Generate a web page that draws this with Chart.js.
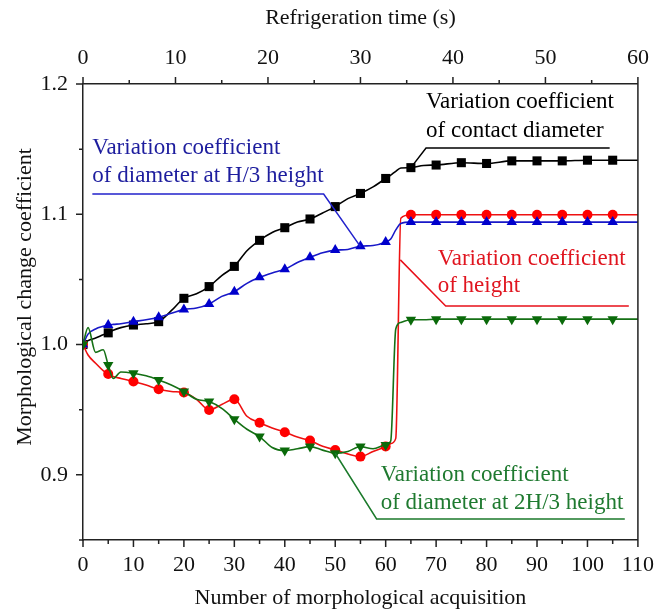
<!DOCTYPE html>
<html>
<head>
<meta charset="utf-8">
<script src="https://cdn.jsdelivr.net/npm/chart.js@4.4.0/dist/chart.umd.min.js"></script>
<style>
html, body { margin: 0; padding: 0; background: #fff; }
#contenedor { width: 666px; height: 615px; }
</style>
</head>
<body>
<div id="contenedor"><canvas id="grafico" width="666" height="615"></canvas></div>
<script>
// numero de adquisicion (eje inferior)
const adquisiciones = [0, 1, 2.5, 4, 5, 6, 7.5, 10, 12.5, 15, 17.5, 20, 22.5, 25, 27.5, 30, 32.5, 35, 37.5, 40, 42.5, 45, 47.5, 50, 52.5, 55, 57.5, 60, 61, 62, 63, 65, 67.5, 70, 75, 80, 85, 90, 95, 100, 105, 110];

const diametroContacto = [1.000, 1.003, 1.005, 1.0075, 1.009, 1.011, 1.013, 1.015, 1.016, 1.0176, 1.026, 1.0355, 1.039, 1.0445, 1.053, 1.060, 1.072, 1.080, 1.086, 1.0897, 1.094, 1.0964, 1.101, 1.1059, 1.112, 1.116, 1.121, 1.1275, 1.130, 1.133, 1.1355, 1.1358, 1.1375, 1.1378, 1.1396, 1.139, 1.141, 1.141, 1.141, 1.1415, 1.1415, 1.1415];
const altura = [1.000, 0.992, 0.9857, 0.980, 0.9774, 0.9755, 0.974, 0.9716, 0.969, 0.9657, 0.964, 0.9632, 0.958, 0.9498, 0.954, 0.958, 0.945, 0.940, 0.936, 0.9327, 0.929, 0.9263, 0.922, 0.9191, 0.916, 0.914, 0.918, 0.9217, 0.924, 0.928, 1.097, 1.0996, 1.0996, 1.0996, 1.0996, 1.0996, 1.0996, 1.0996, 1.0996, 1.0996, 1.0996, 1.0996];
const diametroH3 = [1.000, 1.008, 1.012, 1.014, 1.015, 1.0155, 1.016, 1.0176, 1.019, 1.021, 1.024, 1.027, 1.028, 1.0312, 1.037, 1.0406, 1.047, 1.0516, 1.055, 1.0578, 1.063, 1.067, 1.0705, 1.0725, 1.073, 1.0755, 1.076, 1.0787, 1.081, 1.088, 1.093, 1.094, 1.094, 1.094, 1.094, 1.094, 1.094, 1.094, 1.094, 1.094, 1.094, 1.094];
const diametro2H3 = [1.000, 1.013, 0.994, 0.996, 0.9843, 0.974, 0.979, 0.978, 0.976, 0.9728, 0.969, 0.964, 0.958, 0.9563, 0.951, 0.9427, 0.935, 0.9294, 0.921, 0.9186, 0.920, 0.9217, 0.919, 0.9166, 0.918, 0.9217, 0.920, 0.923, 0.926, 1.012, 1.017, 1.019, 1.019, 1.0195, 1.0195, 1.0195, 1.0195, 1.0195, 1.0195, 1.0195, 1.0195, 1.0195];

const FUENTE = '"Liberation Serif", "Times New Roman", serif';
const tituloY = 'Morphological change coefficient';

// textos y lineas guia (coordenadas en unidades de los ejes)
const anotaciones = [
    { color: '#000000', texto: ['Variation coefficient', 'of contact diameter'], tx: 68, ty: [1.1862, 1.1639],
      guia: [[65, 1.1358], [68, 1.1509], [104.4, 1.1509]] },
    { color: '#1d1d9e', linea: '#2222cc', texto: ['Variation coefficient', 'of diameter at H/3 height'], tx: 1.85, ty: [1.1509, 1.1294],
      guia: [[55, 1.0752], [47.7, 1.1156], [1.85, 1.1156]] },
    { color: '#e0151f', linea: '#e8101a', texto: ['Variation coefficient', 'of height'], tx: 70.3, ty: [1.0657, 1.045],
      guia: [[62.9, 1.065], [71.9, 1.0296], [108.2, 1.0296]] },
    { color: '#1f7a30', linea: '#1b7a2b', texto: ['Variation coefficient', 'of diameter at 2H/3 height'], tx: 59, ty: [0.8999, 0.8784],
      guia: [[50, 0.9166], [58.2, 0.8662], [107.4, 0.8662]] }
];

function puntos(serie) {
    return adquisiciones.map((x, i) => ({ x: x, y: serie[i] }));
}

function radioMarca(r) {
    return function (ctx) {
        const x = adquisiciones[ctx.dataIndex];
        return (x % 5 === 0 && x < 110) ? r : 0;
    };
}

function esMayor(v, paso) {
    return Math.abs(v / paso - Math.round(v / paso)) < 1e-6;
}

// marcas de los ejes hacia afuera, marco derecho y titulo vertical
const marcasEjes = {
    id: 'marcasEjes',
    afterDraw(chart) {
        const ctx = chart.ctx;
        const a = chart.chartArea;
        ctx.save();
        ctx.strokeStyle = '#222';
        ctx.lineWidth = 1.5;
        ctx.beginPath();
        ctx.moveTo(a.right, a.top);
        ctx.lineTo(a.right, a.bottom);
        const sx = chart.scales.x, sx2 = chart.scales.x2, sy = chart.scales.y;
        sx.ticks.forEach(t => {
            const p = sx.getPixelForValue(t.value);
            const l = esMayor(t.value, 10) ? 7 : 4;
            ctx.moveTo(p, a.bottom); ctx.lineTo(p, a.bottom + l);
        });
        sx2.ticks.forEach(t => {
            const p = sx2.getPixelForValue(t.value);
            const l = esMayor(t.value, 10) ? 7 : 4;
            ctx.moveTo(p, a.top); ctx.lineTo(p, a.top - l);
        });
        sy.ticks.forEach(t => {
            const p = sy.getPixelForValue(t.value);
            const l = esMayor(t.value, 0.1) ? 7 : 4;
            ctx.moveTo(a.left, p); ctx.lineTo(a.left - l, p);
        });
        ctx.stroke();

        ctx.translate(25, 297);
        ctx.rotate(-Math.PI / 2);
        ctx.fillStyle = '#111';
        ctx.font = '22px ' + FUENTE;
        ctx.textAlign = 'center';
        ctx.textBaseline = 'middle';
        ctx.fillText(tituloY, 0, 0);
        ctx.restore();
    }
};

const textosGuia = {
    id: 'textosGuia',
    afterDatasetsDraw(chart) {
        const ctx = chart.ctx;
        const sx = chart.scales.x, sy = chart.scales.y;
        ctx.save();
        anotaciones.forEach(an => {
            ctx.strokeStyle = an.linea || an.color;
            ctx.lineWidth = 1.5;
            ctx.beginPath();
            an.guia.forEach((p, i) => {
                const px = sx.getPixelForValue(p[0]);
                const py = sy.getPixelForValue(p[1]);
                if (i === 0) ctx.moveTo(px, py); else ctx.lineTo(px, py);
            });
            ctx.stroke();
            ctx.fillStyle = an.color;
            ctx.font = '23px ' + FUENTE;
            ctx.textAlign = 'left';
            ctx.textBaseline = 'middle';
            an.texto.forEach((t, i) => {
                ctx.fillText(t, sx.getPixelForValue(an.tx), sy.getPixelForValue(an.ty[i]));
            });
        });
        ctx.restore();
    }
};

const ctx = document.getElementById('grafico').getContext('2d');

new Chart(ctx, {
    type: 'line',
    plugins: [textosGuia, marcasEjes],
    data: {
        datasets: [
            {
                label: 'Variation coefficient of contact diameter',
                data: puntos(diametroContacto),
                borderColor: '#000000',
                backgroundColor: '#000000',
                pointStyle: 'rect',
                pointRadius: radioMarca(6.4),
                order: 3
            },
            {
                label: 'Variation coefficient of height',
                data: puntos(altura),
                borderColor: '#ee1111',
                backgroundColor: '#ff0000',
                pointStyle: 'circle',
                pointRadius: radioMarca(5),
                order: 2
            },
            {
                label: 'Variation coefficient of diameter at H/3 height',
                data: puntos(diametroH3),
                borderColor: '#1818c8',
                backgroundColor: '#0000cc',
                pointStyle: 'triangle',
                pointRadius: radioMarca(6),
                order: 1
            },
            {
                label: 'Variation coefficient of diameter at 2H/3 height',
                data: puntos(diametro2H3),
                borderColor: '#157015',
                backgroundColor: '#0a6a0a',
                pointStyle: 'triangle',
                rotation: 180,
                pointRadius: radioMarca(6),
                order: 0
            }
        ]
    },
    options: {
        responsive: false,
        animation: false,
        devicePixelRatio: 1,
        layout: { padding: { left: 0, right: 18, top: 0, bottom: 0 } },
        elements: {
            line: { borderWidth: 1.6, cubicInterpolationMode: 'monotone' },
            point: { borderWidth: 0, hoverRadius: 0 }
        },
        plugins: {
            legend: { display: false },
            tooltip: { enabled: false }
        },
        scales: {
            x: {
                type: 'linear',
                position: 'bottom',
                min: 0,
                max: 110,
                afterFit: s => { s.height = 75; },
                grid: { display: false, drawTicks: false },
                border: { display: true, color: '#222', width: 1.5 },
                ticks: {
                    stepSize: 5,
                    autoSkip: false,
                    maxRotation: 0,
                    padding: 12,
                    color: '#111',
                    font: { family: FUENTE, size: 22 },
                    callback: v => esMayor(v, 10) ? Math.round(v) : ''
                },
                title: {
                    display: true,
                    text: 'Number of morphological acquisition',
                    color: '#111',
                    font: { family: FUENTE, size: 22 },
                    padding: { top: 0, bottom: 4 }
                }
            },
            x2: {
                type: 'linear',
                position: 'top',
                min: 0,
                max: 60,
                afterFit: s => { s.height = 84; },
                grid: { display: false, drawTicks: false },
                border: { display: true, color: '#222', width: 1.5 },
                ticks: {
                    stepSize: 5,
                    autoSkip: false,
                    maxRotation: 0,
                    padding: 13,
                    color: '#111',
                    font: { family: FUENTE, size: 22 },
                    callback: v => esMayor(v, 10) ? Math.round(v) : ''
                },
                title: {
                    display: true,
                    text: 'Refrigeration time (s)',
                    color: '#111',
                    font: { family: FUENTE, size: 22 },
                    padding: { top: 5, bottom: 0 }
                }
            },
            y: {
                type: 'linear',
                min: 0.85,
                max: 1.2,
                afterFit: s => { s.width = 83; },
                grid: { display: false, drawTicks: false },
                border: { display: true, color: '#222', width: 1.5 },
                ticks: {
                    stepSize: 0.05,
                    autoSkip: false,
                    padding: 15,
                    color: '#111',
                    font: { family: FUENTE, size: 22 },
                    callback: v => (esMayor(v, 0.1) && v > 0.86) ? v.toFixed(1) : ''
                },
                title: { display: false }
            }
        }
    }
});
</script>
</body>
</html>
